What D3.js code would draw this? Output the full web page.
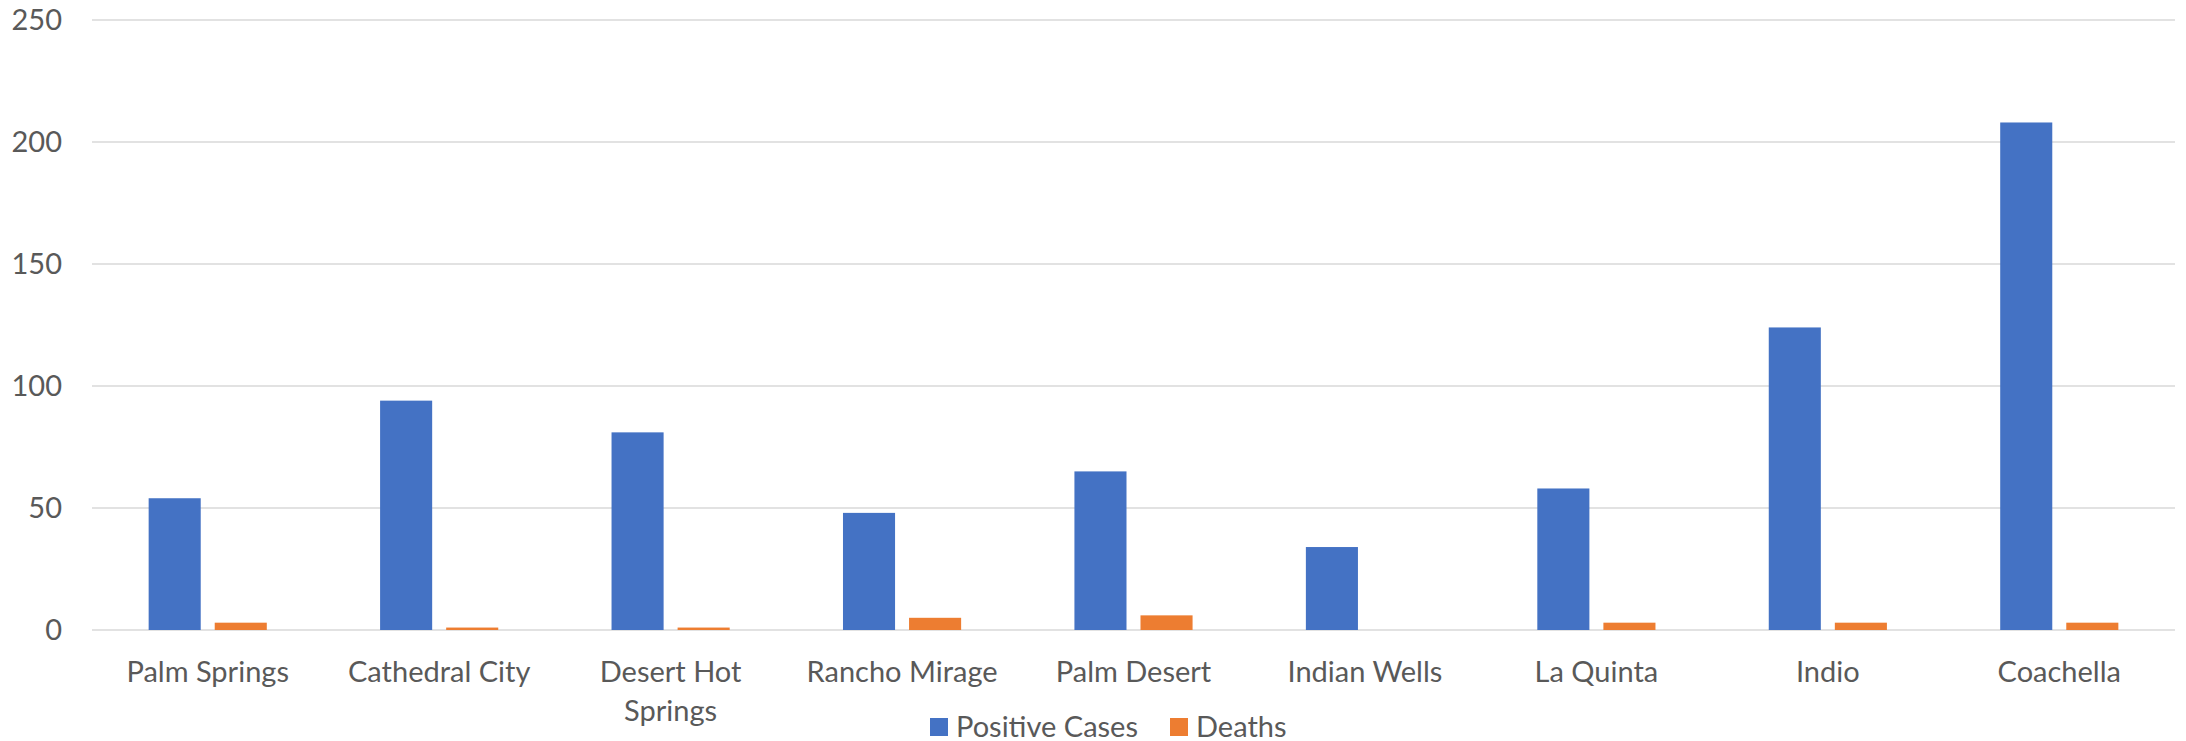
<!DOCTYPE html>
<html>
<head>
<meta charset="utf-8">
<script src="https://cdn.jsdelivr.net/npm/d3@7"></script>
<style>
  body { margin: 0; background: #fff; }
  text { font-family: Lato, "Open Sans", sans-serif; fill: #595959; }
</style>
</head>
<body>
<script>
var cities = ["Palm Springs", "Cathedral City", "Desert Hot Springs", "Rancho Mirage",
	"Palm Desert", "Indian Wells", "La Quinta", "Indio", "Coachella"],
	positiveCases = [54, 94, 81, 48, 65, 34, 58, 124, 208],
	deaths = [3, 1, 1, 5, 6, 0, 3, 3, 3],
	yTicks = [0, 50, 100, 150, 200, 250],
	seriesNames = ["Positive Cases", "Deaths"],
	colors = ["#4472c4", "#ed7d31"];

var w = 2186,
	h = 741,
	plotLeft = 92,
	plotRight = 2175,
	plotTop = 20,
	plotBottom = 630,
	fs = "29px";

var svg = d3.select("body")
	.append("svg")
	.attr("width", w)
	.attr("height", h);

var x = d3.scaleBand()
	.domain(cities)
	.range([plotLeft, plotRight]);

var y = d3.scaleLinear()
	.domain([0, 250])
	.range([plotBottom, plotTop]);

// series position inside each category
var bw = x.bandwidth() * 0.225,
	gap = 14;
var inner = d3.scaleOrdinal()
	.domain(seriesNames)
	.range([-bw - gap / 2, gap / 2]);

// gridlines
svg.append("g")
	.selectAll("line")
	.data(yTicks)
	.enter()
	.append("line")
	.attr("x1", plotLeft)
	.attr("x2", plotRight)
	.attr("y1", function (d) { return y(d); })
	.attr("y2", function (d) { return y(d); })
	.attr("stroke", "#d9d9d9")
	.attr("stroke-width", 1.5);

// y labels
svg.append("g")
	.selectAll("text")
	.data(yTicks)
	.enter()
	.append("text")
	.attr("x", 62)
	.attr("y", function (d) { return y(d); })
	.attr("dy", "0.35em")
	.attr("text-anchor", "end")
	.style("font-size", fs)
	.text(function (d) { return d; });

var table = cities.map(function (c, i) {
	return { city: c, values: [positiveCases[i], deaths[i]] };
});

var groups = svg.selectAll(".grp")
	.data(table)
	.enter()
	.append("g")
	.attr("class", "grp")
	.attr("transform", function (d) {
		return "translate(" + (x(d.city) + x.bandwidth() / 2) + ",0)";
	});

groups.selectAll("rect")
	.data(function (d) { return d.values; })
	.enter()
	.append("rect")
	.attr("x", function (d, i) { return inner(seriesNames[i]); })
	.attr("width", bw)
	.attr("y", function (d) { return y(d); })
	.attr("height", function (d) { return y(0) - y(d); })
	.attr("fill", function (d, i) { return colors[i]; });

// x labels, wrapped when wider than the band
var xl = svg.append("g")
	.selectAll("text")
	.data(cities)
	.enter()
	.append("text")
	.attr("x", function (d) { return x(d) + x.bandwidth() / 2; })
	.attr("y", 682)
	.attr("text-anchor", "middle")
	.style("font-size", fs)
	.text(function (d) { return d; });

xl.each(function (d) {
	var t = d3.select(this);
	if (this.getComputedTextLength() <= x.bandwidth() - 10) return;
	var words = d.split(" "),
		last = words.pop(),
		cx = t.attr("x");
	t.text(null);
	t.append("tspan").attr("x", cx).text(words.join(" "));
	t.append("tspan").attr("x", cx).attr("dy", 39).text(last);
});

// legend
var items = [
	{ name: seriesNames[0], color: colors[0], x: 930 },
	{ name: seriesNames[1], color: colors[1], x: 1170 }
];
var li = svg.append("g")
	.selectAll("g")
	.data(items)
	.enter()
	.append("g")
	.attr("transform", function (d) { return "translate(" + d.x + ",718)"; });
li.append("rect")
	.attr("width", 18)
	.attr("height", 18)
	.attr("fill", function (d) { return d.color; });
li.append("text")
	.attr("x", 26)
	.attr("y", 9)
	.attr("dy", "0.35em")
	.style("font-size", fs)
	.text(function (d) { return d.name; });
</script>
</body>
</html>
